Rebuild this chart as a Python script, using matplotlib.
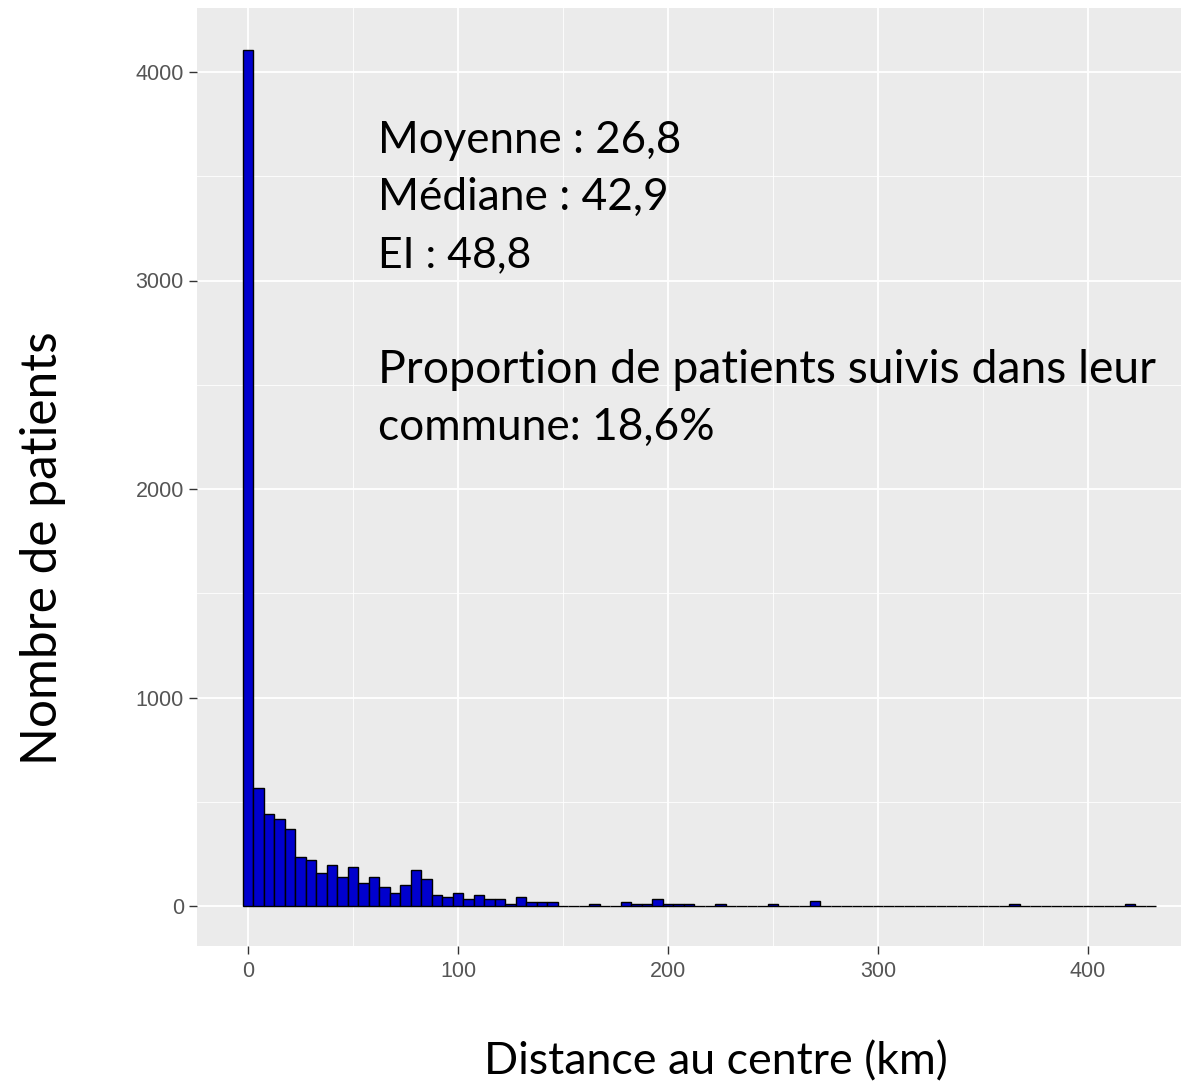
import numpy as np
import matplotlib
matplotlib.use("Agg")
import matplotlib.pyplot as plt
from matplotlib.ticker import MultipleLocator

# ---- data (histogram, 5 km bins centred on multiples of 5) ----
bin_centers = list(range(0, 435, 5))
counts = [
    4105, 566, 443, 415, 367, 233, 223, 159, 196, 137,
    185, 112, 137, 92, 64, 100, 175, 128, 53, 42,
    64, 32, 53, 32, 32, 8, 45, 21, 21, 21,
    0, 0, 0, 11, 0, 0, 21, 11, 11, 33,
    10, 10, 10, 0, 0, 10, 0, 0, 0, 0,
    10, 0, 0, 0, 24, 0, 0, 0, 0, 0,
    0, 0, 0, 0, 0, 0, 0, 0, 0, 0,
    0, 0, 0, 10, 0, 0, 0, 0, 0, 0,
    0, 0, 0, 0, 10, 0, 0,
]
bin_width = 5
x_ticks = [0, 100, 200, 300, 400]
y_ticks = [0, 1000, 2000, 3000, 4000]
x_label = "Distance au centre (km)"
y_label = "Nombre de patients"
annot_lines = ["Moyenne : 26,8", "Médiane : 42,9", "EI : 48,8",
               "Proportion de patients suivis dans leur", "commune: 18,6%"]

W, H = 1181, 1085
fig = plt.figure(figsize=(W / 100, H / 100), dpi=100)
fig.patch.set_facecolor("white")

# panel placement in pixels
pl, pr, pt, pb = 197, 1181, 8, 946
ax = fig.add_axes([pl / W, 1 - pb / H, (pr - pl) / W, (pb - pt) / H])
ax.set_facecolor("#EBEBEB")

# data -> pixel mapping: x0=248px, 2.1px/km ; y0=906px, 0.2085 px/unit
ax.set_xlim((pl - 248) / 2.1, (pr - 248) / 2.1)
ax.set_ylim(-(pb - 906) / 0.2085, (906 - pt) / 0.2085)

ax.bar(bin_centers, counts, width=bin_width, color="#0000CD",
       edgecolor="black", linewidth=1.0, zorder=3)

ax.set_xticks(x_ticks)
ax.set_yticks(y_ticks)
ax.xaxis.set_minor_locator(MultipleLocator(50))
ax.yaxis.set_minor_locator(MultipleLocator(500))
ax.grid(which="major", color="white", linewidth=1.3, zorder=0)
ax.grid(which="minor", color="white", linewidth=0.6, zorder=0)
ax.set_axisbelow(True)
for s in ax.spines.values():
    s.set_visible(False)
ax.tick_params(which="major", length=5.5, width=1.0, color="#333333",
               labelcolor="#555555", labelsize=15.5)
ax.tick_params(axis="x", which="major", pad=5)
ax.tick_params(axis="y", which="major", pad=4)
ax.tick_params(which="minor", length=0)
for lab in ax.get_xticklabels() + ax.get_yticklabels():
    lab.set_fontfamily("Liberation Sans")

font = "Lato"
renderer = fig.canvas.get_renderer()


def fit_text(x, y, s, target_w, base=30, **kw):
    t = fig.text(x / W, 1 - y / H, s, fontsize=base, family=font,
                 color="black", **kw)
    bb = t.get_window_extent(renderer)
    w = bb.width if kw.get("rotation", 0) == 0 else bb.height
    t.set_fontsize(base * target_w / w)
    return t


# annotation block (baseline positions in px)
fit_text(378, 153, annot_lines[0], 303, va="baseline", ha="left")
fit_text(378, 210, annot_lines[1], 290, va="baseline", ha="left")
fit_text(378, 267, annot_lines[2], 153, va="baseline", ha="left")
fit_text(378, 383, annot_lines[3], 779, va="baseline", ha="left")
fit_text(378, 440, annot_lines[4], 337, va="baseline", ha="left")

# axis titles
fit_text(716, 1074, x_label, 463, va="baseline", ha="center")
fit_text(66, 548, y_label, 433, va="center", ha="right", rotation=90,
         rotation_mode="default")

fig.savefig("out.png", dpi=100, facecolor="white")
